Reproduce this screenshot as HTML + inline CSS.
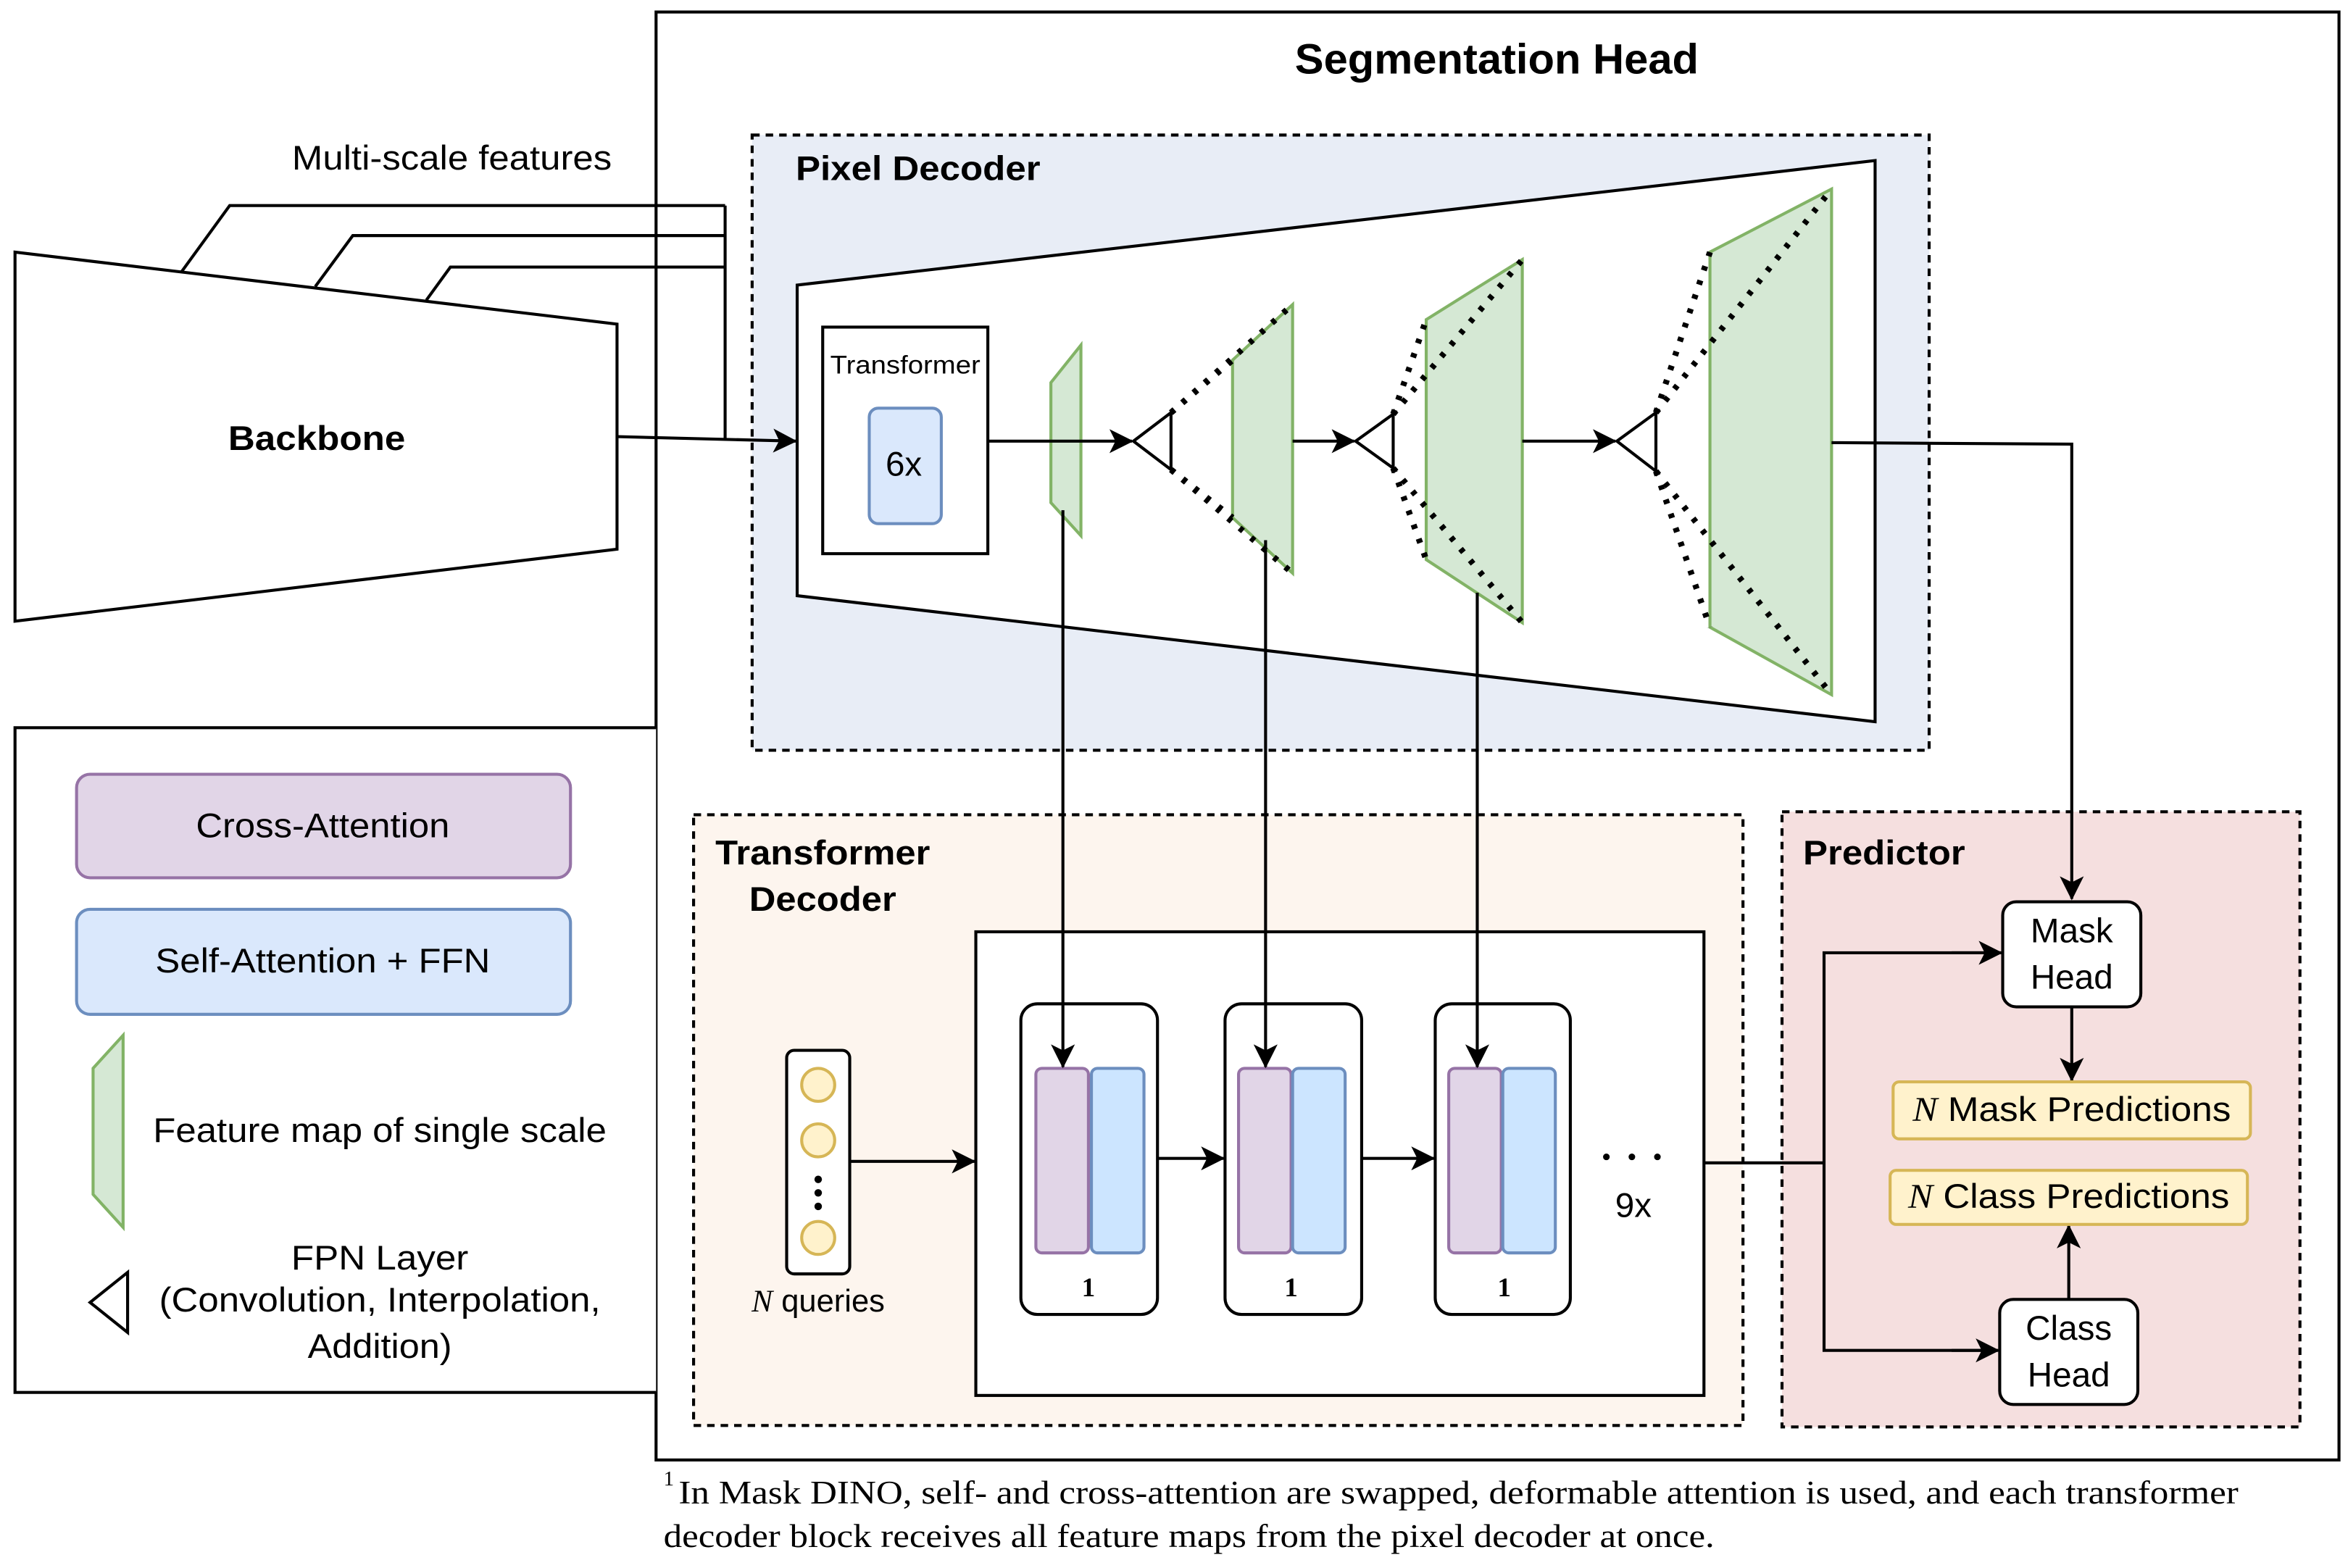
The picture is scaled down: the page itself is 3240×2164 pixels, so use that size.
<!DOCTYPE html>
<html><head><meta charset="utf-8"><style>html,body{margin:0;padding:0;background:#fff}svg{display:block}</style></head><body>
<svg width="3240" height="2164" viewBox="0 0 1564 1045" preserveAspectRatio="none" xmlns="http://www.w3.org/2000/svg" font-family="Liberation Sans, sans-serif">
<defs><marker id="b" markerWidth="16" markerHeight="16" refX="15" refY="8" orient="auto" markerUnits="userSpaceOnUse"><path d="M0,0 L16,8 L0,16 L4,8 Z" fill="#000"/></marker></defs>
<rect x="437" y="8" width="1121" height="965" fill="#fff" stroke="#000" stroke-width="2"/>
<text x="997" y="49" font-size="28" font-weight="bold" text-anchor="middle" textLength="269" lengthAdjust="spacingAndGlyphs">Segmentation Head</text>
<rect x="501" y="90" width="784" height="410" fill="#e8edf6" stroke="#000" stroke-width="2" stroke-dasharray="5,4"/>
<text x="530" y="120" font-size="23" font-weight="bold" textLength="163" lengthAdjust="spacingAndGlyphs">Pixel Decoder</text>
<polygon points="531,190 1249,107 1249,481 531,397" fill="#fff" stroke="#000" stroke-width="2"/>
<rect x="548" y="218" width="110" height="151" fill="#fff" stroke="#000" stroke-width="2"/>
<text x="603" y="249" font-size="17" text-anchor="middle" textLength="100" lengthAdjust="spacingAndGlyphs">Transformer</text>
<rect x="579" y="272" width="48" height="77" rx="6" fill="#dae8fc" stroke="#6c8ebf" stroke-width="2"/>
<text x="602" y="317" font-size="23" text-anchor="middle">6x</text>
<g fill="#d5e8d4" stroke="#82b366" stroke-width="2">
<polygon points="700,255 720,230 720,357 700,335"/>
<polygon points="821,240 861,203 861,382 821,345"/>
<polygon points="950,213 1014,173 1014,415 950,373"/>
<polygon points="1139,168 1220,126 1220,463 1139,418"/>
</g>
<g fill="#fff" stroke="#000" stroke-width="2">
<polygon points="755,294 780,275 780,313"/>
<polygon points="903,294 928,276 928,312"/>
<polygon points="1077,294 1103,275 1103,314"/>
</g>
<g stroke="#000" stroke-width="4" stroke-dasharray="3,7" fill="none">
<line x1="780" y1="275" x2="861" y2="203"/><line x1="780" y1="313" x2="861" y2="382"/>
<line x1="780" y1="275" x2="821" y2="240"/><line x1="780" y1="313" x2="821" y2="345"/>
<line x1="928" y1="276" x2="1014" y2="173"/><line x1="928" y1="312" x2="1014" y2="415"/>
<line x1="928" y1="276" x2="950" y2="213"/><line x1="928" y1="312" x2="950" y2="373"/>
<line x1="1103" y1="275" x2="1220" y2="126"/><line x1="1103" y1="314" x2="1220" y2="463"/>
<line x1="1103" y1="275" x2="1139" y2="168"/><line x1="1103" y1="314" x2="1139" y2="418"/>
</g>
<rect x="462" y="543" width="699" height="407" fill="#fdf5ee" stroke="#000" stroke-width="2" stroke-dasharray="5,4"/>
<rect x="1187" y="541" width="345" height="410" fill="#f5dfdf" stroke="#000" stroke-width="2" stroke-dasharray="5,4"/>
<g stroke="#000" stroke-width="2" fill="none">
<line x1="658" y1="294" x2="754" y2="294" marker-end="url(#b)"/>
<line x1="861" y1="294" x2="902" y2="294" marker-end="url(#b)"/>
<line x1="1014" y1="294" x2="1076" y2="294" marker-end="url(#b)"/>
<line x1="411" y1="291" x2="530" y2="294" marker-end="url(#b)"/>
<polyline points="1220,295 1380,296 1380,599" marker-end="url(#b)"/>
<polyline points="121,181 153,137 483,137"/><polyline points="210,191 235,157 483,157"/><polyline points="284,200 300,178 483,178"/>
<line x1="483" y1="137" x2="483" y2="293"/>
</g>
<polygon points="10,168 411,216 411,366 10,414" fill="#fff" stroke="#000" stroke-width="2"/>
<text x="211" y="300" font-size="23" font-weight="bold" text-anchor="middle" textLength="118" lengthAdjust="spacingAndGlyphs">Backbone</text>
<text x="301" y="113" font-size="23" text-anchor="middle" textLength="213" lengthAdjust="spacingAndGlyphs">Multi-scale features</text>
<polyline points="437,485 10,485 10,928 437,928" fill="#fff" stroke="#000" stroke-width="2"/>
<rect x="51" y="516" width="329" height="69" rx="9" fill="#e1d5e7" stroke="#9673a6" stroke-width="2"/>
<text x="215" y="558" font-size="23" text-anchor="middle" textLength="169" lengthAdjust="spacingAndGlyphs">Cross-Attention</text>
<rect x="51" y="606" width="329" height="70" rx="9" fill="#dae8fc" stroke="#6c8ebf" stroke-width="2"/>
<text x="215" y="648" font-size="23" text-anchor="middle" textLength="223" lengthAdjust="spacingAndGlyphs">Self-Attention + FFN</text>
<polygon points="62,712 82,690 82,818 62,796" fill="#d5e8d4" stroke="#82b366" stroke-width="2"/>
<text x="253" y="761" font-size="23" text-anchor="middle" textLength="302" lengthAdjust="spacingAndGlyphs">Feature map of single scale</text>
<polygon points="60,868 85,848 85,888" fill="#fff" stroke="#000" stroke-width="2"/>
<text x="253" y="846" font-size="23" text-anchor="middle" textLength="118" lengthAdjust="spacingAndGlyphs">FPN Layer</text>
<text x="253" y="874" font-size="23" text-anchor="middle" textLength="294" lengthAdjust="spacingAndGlyphs">(Convolution, Interpolation,</text>
<text x="253" y="905" font-size="23" text-anchor="middle" textLength="96" lengthAdjust="spacingAndGlyphs">Addition)</text>
<text x="548" y="576" font-size="23" font-weight="bold" text-anchor="middle" textLength="143" lengthAdjust="spacingAndGlyphs">Transformer</text>
<text x="548" y="607" font-size="23" font-weight="bold" text-anchor="middle" textLength="98" lengthAdjust="spacingAndGlyphs">Decoder</text>
<text x="1201" y="576" font-size="23" font-weight="bold" textLength="108" lengthAdjust="spacingAndGlyphs">Predictor</text>
<rect x="650" y="621" width="485" height="309" fill="#fff" stroke="#000" stroke-width="2"/>
<rect x="524" y="700" width="42" height="149" rx="5" fill="#fff" stroke="#000" stroke-width="2"/>
<g fill="#fff2cc" stroke="#d6b656" stroke-width="2"><circle cx="545" cy="723" r="11"/><circle cx="545" cy="760" r="11"/><circle cx="545" cy="825" r="11"/></g>
<g fill="#000"><circle cx="545" cy="786" r="2.5"/><circle cx="545" cy="795" r="2.5"/><circle cx="545" cy="804" r="2.5"/></g>
<text x="545" y="874" font-size="21" text-anchor="middle"><tspan font-family="Liberation Serif, serif" font-style="italic">N</tspan> queries</text>
<g stroke="#000" stroke-width="2">
<rect x="680" y="669" width="91" height="207" rx="11" fill="#fff"/>
<rect x="816" y="669" width="91" height="207" rx="11" fill="#fff"/>
<rect x="956" y="669" width="90" height="207" rx="11" fill="#fff"/>
</g>
<g stroke-width="2">
<rect x="690" y="712" width="35" height="123" rx="4" fill="#e1d5e7" stroke="#9673a6"/><rect x="727" y="712" width="35" height="123" rx="4" fill="#cce5ff" stroke="#6c8ebf"/>
<rect x="825" y="712" width="35" height="123" rx="4" fill="#e1d5e7" stroke="#9673a6"/><rect x="861" y="712" width="35" height="123" rx="4" fill="#cce5ff" stroke="#6c8ebf"/>
<rect x="965" y="712" width="35" height="123" rx="4" fill="#e1d5e7" stroke="#9673a6"/><rect x="1001" y="712" width="35" height="123" rx="4" fill="#cce5ff" stroke="#6c8ebf"/>
</g>
<g font-family="Liberation Serif, serif" font-size="18" font-weight="bold" text-anchor="middle"><text x="725" y="864">1</text><text x="860" y="864">1</text><text x="1002" y="864">1</text></g>
<g stroke="#000" stroke-width="2" fill="none">
<line x1="566" y1="774" x2="649" y2="774" marker-end="url(#b)"/>
<line x1="771" y1="772" x2="815" y2="772" marker-end="url(#b)"/>
<line x1="907" y1="772" x2="955" y2="772" marker-end="url(#b)"/>
<line x1="708" y1="340" x2="708" y2="711" marker-end="url(#b)"/>
<line x1="843" y1="360" x2="843" y2="711" marker-end="url(#b)"/>
<line x1="984" y1="395" x2="984" y2="711" marker-end="url(#b)"/>
<line x1="1135" y1="775" x2="1215" y2="775"/>
<polyline points="1332,635 1215,635 1215,900 1330,900"/>
<line x1="1300" y1="635" x2="1333" y2="635" marker-end="url(#b)"/>
<line x1="1300" y1="900" x2="1331" y2="900" marker-end="url(#b)"/>
<line x1="1380" y1="671" x2="1380" y2="720" marker-end="url(#b)"/>
<line x1="1378" y1="866" x2="1378" y2="817" marker-end="url(#b)"/>
</g>
<g fill="#000"><circle cx="1070" cy="771" r="2.2"/><circle cx="1087" cy="771" r="2.2"/><circle cx="1104" cy="771" r="2.2"/></g>
<text x="1088" y="811" font-size="23" text-anchor="middle">9x</text>
<rect x="1334" y="601" width="92" height="70" rx="9" fill="#fff" stroke="#000" stroke-width="2"/>
<text x="1380" y="628" font-size="23" text-anchor="middle">Mask</text><text x="1380" y="659" font-size="23" text-anchor="middle">Head</text>
<rect x="1332" y="866" width="92" height="70" rx="9" fill="#fff" stroke="#000" stroke-width="2"/>
<text x="1378" y="893" font-size="23" text-anchor="middle">Class</text><text x="1378" y="924" font-size="23" text-anchor="middle">Head</text>
<rect x="1261" y="721" width="238" height="38" rx="4" fill="#fff2cc" stroke="#d6b656" stroke-width="2"/>
<text x="1380" y="747" font-size="23" text-anchor="middle" textLength="212" lengthAdjust="spacingAndGlyphs"><tspan font-family="Liberation Serif, serif" font-style="italic">N</tspan> Mask Predictions</text>
<rect x="1259" y="780" width="238" height="36" rx="4" fill="#fff2cc" stroke="#d6b656" stroke-width="2"/>
<text x="1378" y="805" font-size="23" text-anchor="middle" textLength="214" lengthAdjust="spacingAndGlyphs"><tspan font-family="Liberation Serif, serif" font-style="italic">N</tspan> Class Predictions</text>
<g font-family="Liberation Serif, serif" font-size="22">
<text x="442" y="990" font-size="14">1</text>
<text x="452" y="1002" textLength="1039" lengthAdjust="spacingAndGlyphs">In Mask DINO, self- and cross-attention are swapped, deformable attention is used, and each transformer</text>
<text x="442" y="1031" textLength="700" lengthAdjust="spacingAndGlyphs">decoder block receives all feature maps from the pixel decoder at once.</text>
</g>
</svg>
</body></html>
